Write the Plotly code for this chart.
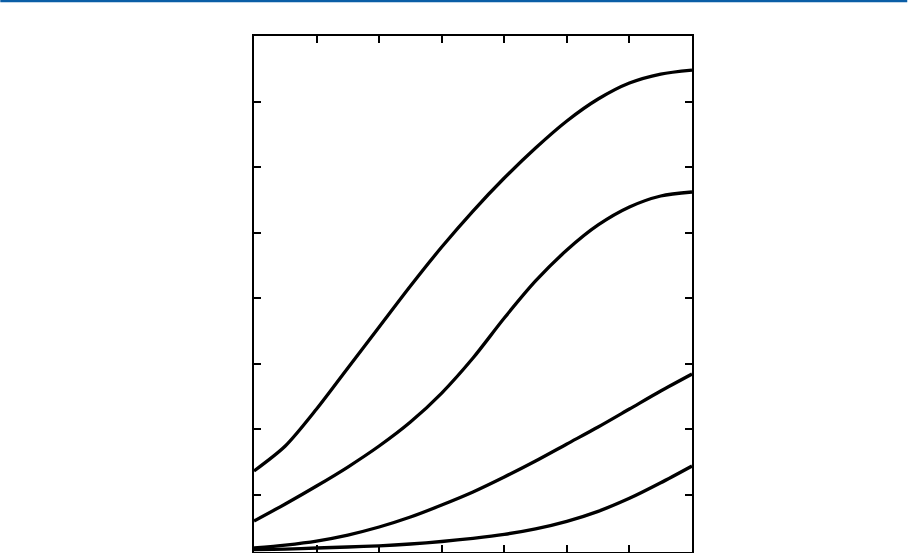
import plotly.graph_objects as go

x_vals = [0, 0.5, 1, 1.5, 2, 2.5, 3, 3.5, 4, 4.5, 5, 5.5, 6, 6.5, 7]

curve_1 = [1.366, 1.747, 2.311, 2.937, 3.562, 4.187, 4.782, 5.331, 5.834, 6.292, 6.704, 7.039, 7.283, 7.42, 7.481]
curve_2 = [0.603, 0.863, 1.137, 1.427, 1.747, 2.113, 2.555, 3.089, 3.699, 4.264, 4.736, 5.118, 5.392, 5.560, 5.621]
curve_3 = [0.192, 0.237, 0.298, 0.390, 0.512, 0.664, 0.847, 1.046, 1.274, 1.518, 1.778, 2.037, 2.311, 2.586, 2.845]
curve_4 = [0.169, 0.176, 0.192, 0.207, 0.225, 0.253, 0.291, 0.340, 0.400, 0.484, 0.599, 0.751, 0.949, 1.186, 1.442]

x_ticks = [0, 1, 2, 3, 4, 5, 6, 7]
y_ticks = [1, 2, 3, 4, 5, 6, 7, 8]

fig = go.Figure()
for ys in [curve_1, curve_2, curve_3, curve_4]:
    fig.add_trace(go.Scatter(
        x=x_vals, y=ys, mode="lines",
        line=dict(color="black", width=3.3, shape="spline", smoothing=0.8),
        showlegend=False, hoverinfo="skip"))

W, H = 908, 553
L, R, T, B = 254, 215.5, 36, 1
pw = W - L - R
ph = H - T - B

fig.update_layout(
    width=W, height=H,
    margin=dict(l=L, r=R, t=T, b=B, autoexpand=False),
    paper_bgcolor="white", plot_bgcolor="white",
    showlegend=False,
    shapes=[dict(type="line", xref="paper", yref="paper",
                 x0=-L / pw, x1=(W - L) / pw,
                 y0=1 + (T - 1) / ph, y1=1 + (T - 1) / ph,
                 line=dict(color="#0b5ea6", width=2.5))],
)
fig.update_xaxes(range=[0, 7], tickvals=x_ticks, ticks="inside", ticklen=7, tickwidth=1.5,
                 tickcolor="black", showticklabels=False, showgrid=False, zeroline=False,
                 showline=True, linecolor="black", linewidth=2, mirror="ticks")
fig.update_yaxes(range=[0.131, 8], tickvals=y_ticks, ticks="inside", ticklen=7, tickwidth=1.5,
                 tickcolor="black", showticklabels=False, showgrid=False, zeroline=False,
                 showline=True, linecolor="black", linewidth=2, mirror="ticks")

fig.write_html("out.html", config={"displayModeBar": False},
               post_script="document.body.style.margin='0';document.body.style.overflow='hidden';")
